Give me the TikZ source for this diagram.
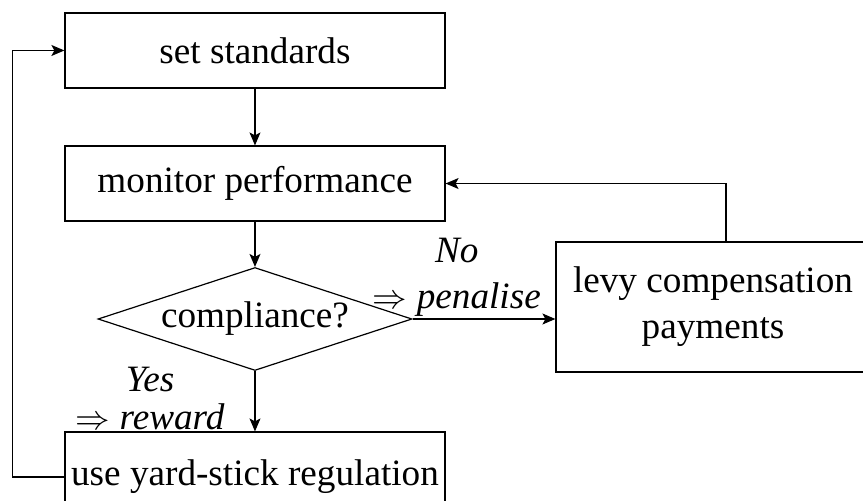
\documentclass[tikz,border=0pt]{standalone}
\usepackage{fontspec}
\setmainfont{Liberation Serif}
\usetikzlibrary{
    arrows.meta,
    positioning,
    shapes.geometric
}
\tikzset{
    stepbox/.style={
        rectangle,
        draw=black,
        line width=0.6pt,
        minimum width=6.678cm,
        minimum height=1.318cm,
        align=center,
        inner sep=2pt
    },
    decision/.style={
        diamond,
        aspect=3.05,
        draw=black,
        line width=0.6pt,
        minimum width=5.518cm,
        minimum height=1.81cm,
        inner sep=0pt
    },
    flow/.style={
        -{Stealth[length=6.5pt,width=5.5pt,inset=1.5pt]},
        draw=black,
        line width=0.6pt
    },
    branch/.style={
        font=\fontsize{18.6}{23}\selectfont\itshape,
        align=center,
        inner sep=1pt
    }
}

\begin{document}
\begin{tikzpicture}[
    every node/.style={font=\fontsize{18.6}{23}\selectfont}
]
    \useasboundingbox (0,0) rectangle (15.166,-8.787);

    % Main chain
    \node[stepbox] (setstd) at (4.481,-0.887) {set standards};
    \node[stepbox] (monitor) at (4.481,-3.225) {monitor performance};
    \node[decision] (check) at (4.481,-5.606) {compliance?};
    \node[stepbox, minimum height=1.582cm] (yard) at (4.481,-8.383) {use yard-stick regulation};

    % Penalty branch
    \node[stepbox, minimum width=5.518cm, minimum height=2.285cm] (levy) at (12.530,-5.395) {levy compensation\\payments};

    \draw[flow] (setstd) -- (monitor);
    \draw[flow] (monitor) -- (check);
    \draw[flow] (check) -- node[pos=0.45, left=14pt, branch] {Yes\\[-4pt]$\Rightarrow$ reward} (yard);
    \draw[flow] (check.east) -- node[pos=0.31, above, branch] {No\\$\Rightarrow$ penalise} (check.east -| levy.west);

    % Feedback loops
    \draw[flow] ([xshift=6.5pt]levy.north) |- (monitor.east);
    \draw[flow] (yard.west) -- ++(-0.914,0) |- (setstd.west);
\end{tikzpicture}
\end{document}
